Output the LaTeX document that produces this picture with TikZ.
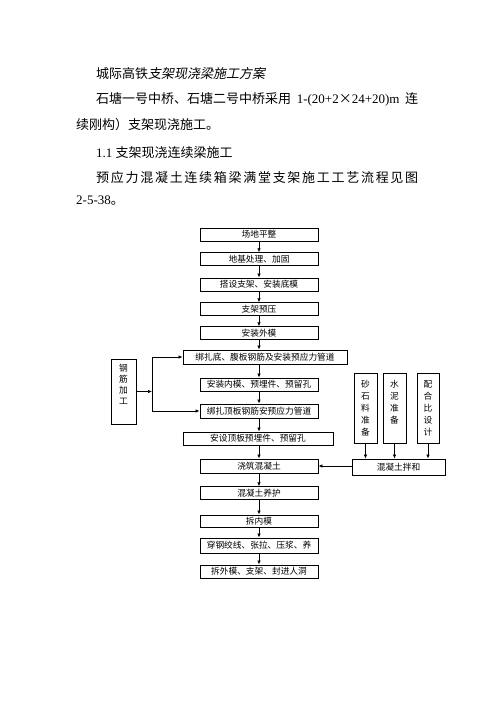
\documentclass[tikz,border=0pt]{standalone}
\usepackage{fontspec}
\setmainfont{Liberation Serif}
\newfontfamily\cjk{Noto Sans CJK SC}
\newfontfamily\cjksl[FakeSlant=0.2]{Noto Sans CJK SC}
\usetikzlibrary{arrows.meta}
\begin{document}
\begin{tikzpicture}[x=1pt, y={(0pt,-1pt)},
  box/.style={draw, line width=0.9pt, inner sep=0pt, align=center,
    font=\cjk\fontsize{8.7}{10}\selectfont},
  vbox/.style={draw, line width=0.9pt, inner sep=0pt, align=center,
    font=\cjk\fontsize{8.7}{12}\selectfont},
  arr/.style={-{Latex[length=4pt,width=3.5pt]}, line width=0.7pt},
  ln/.style={line width=0.7pt},
  txt/.style={inner sep=0pt, anchor=west, font=\fontsize{13}{15}\selectfont}]
\useasboundingbox (0,0) rectangle (496,702);
\fill[white] (0,0) rectangle (496,702);

% text
\node[txt, font=\fontsize{13}{15}\selectfont] (h) at (96,73.3) {{\cjk 城际高铁}{\cjksl 支架现浇梁施工方案}};
\node[txt] (l2) at (96,99.3) {\makebox[322pt][s]{{\cjk 石塘一号中桥、石塘二号中桥采用} 1-(20+2{\cjk ×}24+20)m {\cjk 连}}};
\node[txt] (l3) at (76,125) {\cjk 续刚构）支架现浇施工。};
\node[txt] (l4) at (96,152.7) {1.1 {\cjk 支架现浇连续梁施工}};
\node[txt] (l5) at (96,177.3) {\makebox[322pt][s]{\cjk 预\hfill 应\hfill 力\hfill 混\hfill 凝\hfill 土\hfill 连\hfill 续\hfill 箱\hfill 梁\hfill 满\hfill 堂\hfill 支\hfill 架\hfill 施\hfill 工\hfill 工\hfill 艺\hfill 流\hfill 程\hfill 见\hfill 图}};
\node[txt] (l6) at (76,201) {2-5-38{\cjk 。}};

% main column
\node[box, minimum width=118pt, minimum height=13pt] (b1) at (259,234.5) {场地平整};
\node[box, minimum width=118pt, minimum height=12.5pt] (b2) at (259,259) {地基处理、加固};
\node[box, minimum width=118pt, minimum height=13pt] (b3) at (259,284.5) {搭设支架、安装底模};
\node[box, minimum width=118pt, minimum height=12.5pt] (b4) at (259,309) {支架预压};
\node[box, minimum width=118pt, minimum height=12.5pt] (b5) at (259,333) {安装外模};
\node[box, minimum width=164pt, minimum height=14pt] (b6) at (265,357) {绑扎底、腹板钢筋及安装预应力管道};
\node[box, minimum width=118pt, minimum height=13pt] (b7) at (259,384.5) {安装内模、预埋件、预留孔};
\node[box, minimum width=118pt, minimum height=14pt] (b8) at (259,411) {绑扎顶板钢筋安预应力管道};
\node[box, minimum width=150pt, minimum height=13pt] (b9) at (258,438.5) {安设顶板预埋件、预留孔};
\node[box, minimum width=118pt, minimum height=14pt] (b10) at (259,466) {浇筑混凝土};
\node[box, minimum width=118pt, minimum height=12.5pt] (b11) at (259,493) {混凝土养护};
\node[box, minimum width=118pt, minimum height=12pt] (b12) at (259,521) {拆内模};
\node[box, minimum width=118pt, minimum height=15pt] (b13) at (259,545.5) {穿钢绞线、张拉、压浆、养};
\node[box, minimum width=118pt, minimum height=13pt] (b14) at (259,571.5) {拆外模、支架、封进人洞};

% left box
\node[vbox, minimum width=25pt, minimum height=65pt, font=\cjk\fontsize{8.7}{11}\selectfont] (gj) at (123.5,391.5) {钢\\筋\\加\\工\\[4pt]\mbox{}};

% right boxes
\node[vbox, minimum width=23pt, minimum height=70pt] (s1) at (365.5,408) {砂\\石\\料\\准\\备};
\node[vbox, minimum width=23pt, minimum height=70pt] (s2) at (394.5,408) {水\\泥\\准\\备\\\mbox{}};
\node[vbox, minimum width=22pt, minimum height=70pt] (s3) at (428,408) {配\\合\\比\\设\\计};
\node[box, minimum width=93pt, minimum height=16pt] (mix) at (398.5,467) {混凝土拌和};

% main arrows
\draw[arr] (b1) -- (b2);
\draw[arr] (b2) -- (b3);
\draw[arr] (b3) -- (b4);
\draw[arr] (b4) -- (b5);
\draw[arr] (b5.south) -- (b5.south |- b6.north);
\draw[arr] (b6.south -| b7.north) -- (b7.north);
\draw[arr] (b7) -- (b8);
\draw[arr] (b8.south) -- (b8.south |- b9.north);
\draw[arr] (b9.south -| b10.north) -- (b10.north);
\draw[arr] (b10) -- (b11);
\draw[arr] (b11) -- (b12);
\draw[arr] (b12) -- (b13);
\draw[arr] (b13) -- (b14);

% left connectors
\coordinate (jt) at (152,357);
\coordinate (jm) at (152,391.5);
\coordinate (jb) at (152,411);
\draw[arr] (gj.east |- jm) -- (jm);
\draw[ln] (jt) -- (jb);
\draw[arr] (jt) -- (b6.west);
\draw[arr] (jb) -- (b8.west);

% right connectors
\draw[arr] (s1.south) -- (s1.south |- mix.north);
\draw[arr] (s2.south) -- (s2.south |- mix.north);
\draw[arr] (s3.south) -- (s3.south |- mix.north);
\draw[arr] (mix.west |- b10.east) -- (b10.east);
\end{tikzpicture}
\end{document}
